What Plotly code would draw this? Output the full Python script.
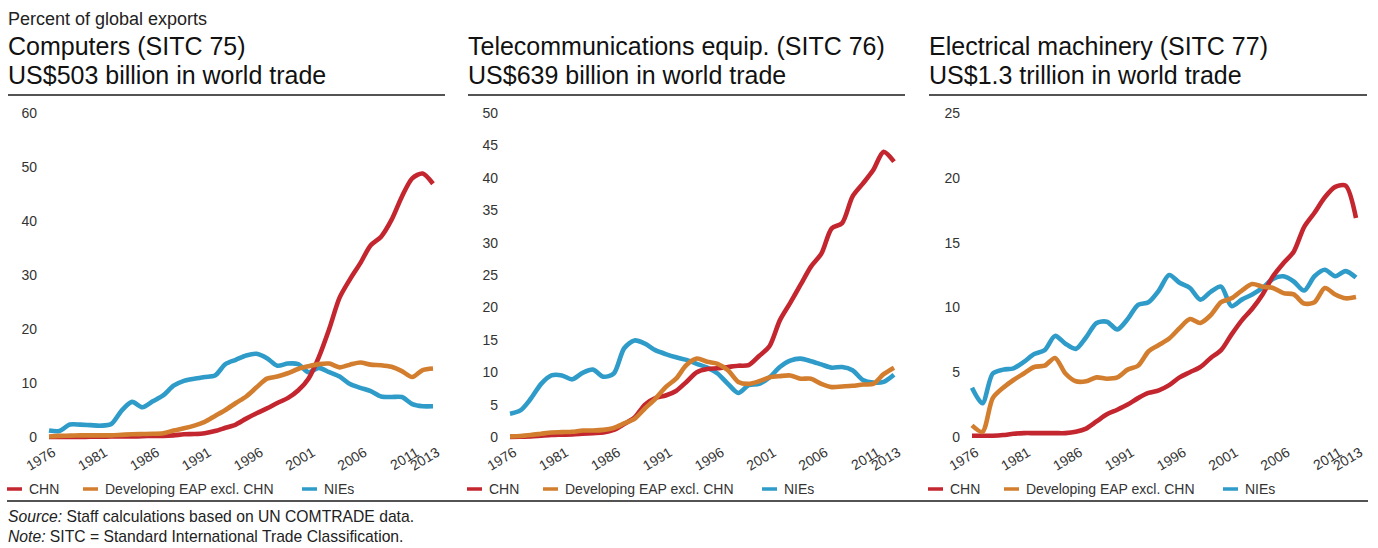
import plotly.graph_objects as go

W, H = 1378, 548

YEARS = list(range(1976, 2014))
TICK_YEARS = [1976, 1981, 1986, 1991, 1996, 2001, 2006, 2011, 2013]

SERIES_NAMES = ["CHN", "Developing EAP excl. CHN", "NIEs"]
COLORS = {"CHN": "#C3262E", "Developing EAP excl. CHN": "#D27E2E", "NIEs": "#2E9BC9"}

PANEL_TITLES = ["Computers (SITC 75)", "Telecommunications equip. (SITC 76)", "Electrical machinery (SITC 77)"]
PANEL_SUBTITLES = ["US$503 billion in world trade", "US$639 billion in world trade", "US$1.3 trillion in world trade"]
Y_MAX = [60, 50, 25]
Y_DTICK = [10, 5, 5]

# Panel 1: Computers
comp_chn = [0.0, 0.0, 0.0, 0.0, 0.05, 0.05, 0.1, 0.1, 0.1, 0.15,
            0.2, 0.2, 0.3, 0.5, 0.55, 0.7, 1.1, 1.7, 2.3, 3.4,
            4.4, 5.3, 6.3, 7.2, 8.6, 10.8, 14.8, 20.0, 25.8, 29.2,
            32.2, 35.5, 37.1, 40.2, 44.5, 47.9, 48.8, 46.9]
comp_eap = [0.1, 0.2, 0.25, 0.3, 0.3, 0.3, 0.3, 0.4, 0.5, 0.55,
            0.6, 0.7, 1.2, 1.6, 2.1, 2.8, 3.9, 5.0, 6.3, 7.5,
            9.2, 10.8, 11.2, 11.8, 12.6, 13.1, 13.5, 13.6, 12.9, 13.4,
            13.8, 13.4, 13.3, 13.0, 12.2, 11.1, 12.4, 12.7]
comp_nie = [1.2, 1.1, 2.3, 2.3, 2.2, 2.1, 2.4, 4.9, 6.5, 5.5,
            6.6, 7.7, 9.5, 10.4, 10.8, 11.1, 11.4, 13.5, 14.3, 15.1,
            15.4, 14.6, 13.2, 13.6, 13.5, 12.0, 12.8, 12.0, 11.2, 9.8,
            9.1, 8.5, 7.5, 7.4, 7.4, 6.1, 5.7, 5.7]

# Panel 2: Telecommunications equipment
tele_chn = [0.0, 0.05, 0.1, 0.2, 0.3, 0.35, 0.4, 0.5, 0.6, 0.7,
            1.1, 2.0, 3.0, 5.0, 6.0, 6.4, 7.1, 8.5, 10.0, 10.5,
            10.6, 10.8, 11.0, 11.1, 12.5, 14.0, 18.0, 20.7, 23.5, 26.3,
            28.3, 32.2, 33.0, 37.1, 39.1, 41.2, 44.0, 42.5]
tele_eap = [0.1, 0.15, 0.3, 0.5, 0.7, 0.75, 0.8, 1.0, 1.0, 1.1,
            1.4, 2.1, 2.8, 4.4, 5.9, 7.7, 9.0, 11.1, 12.1, 11.6,
            11.3, 10.3, 8.5, 8.2, 8.6, 9.2, 9.4, 9.5, 9.0, 9.0,
            8.2, 7.7, 7.8, 7.9, 8.1, 8.2, 9.7, 10.7]
tele_nie = [3.6, 4.1, 5.9, 8.2, 9.5, 9.5, 8.9, 9.9, 10.4, 9.3,
            9.8, 13.7, 14.9, 14.4, 13.4, 12.8, 12.3, 11.9, 11.3, 10.7,
            9.8, 8.2, 6.8, 8.0, 8.2, 9.2, 10.8, 11.8, 12.1, 11.7,
            11.2, 10.7, 10.8, 10.3, 8.8, 8.4, 8.5, 9.6]

# Panel 3: Electrical machinery
elec_chn = [0.1, 0.1, 0.1, 0.15, 0.25, 0.3, 0.3, 0.3, 0.3, 0.3,
            0.4, 0.65, 1.2, 1.75, 2.1, 2.5, 3.0, 3.4, 3.6, 4.0,
            4.6, 5.0, 5.4, 6.1, 6.7, 7.9, 9.0, 9.9, 11.0, 12.4,
            13.4, 14.3, 16.2, 17.3, 18.5, 19.3, 19.4, 16.9]
elec_eap = [0.9, 0.4, 3.0, 3.8, 4.4, 4.9, 5.4, 5.5, 6.1, 4.9,
            4.3, 4.3, 4.6, 4.5, 4.6, 5.2, 5.5, 6.6, 7.1, 7.6,
            8.4, 9.1, 8.8, 9.4, 10.4, 10.7, 11.3, 11.8, 11.6, 11.5,
            11.1, 11.0, 10.3, 10.4, 11.5, 11.0, 10.7, 10.8]
elec_nie = [3.8, 2.6, 4.9, 5.2, 5.3, 5.8, 6.4, 6.7, 7.8, 7.2,
            6.8, 7.7, 8.8, 8.9, 8.3, 9.1, 10.2, 10.4, 11.3, 12.5,
            11.9, 11.5, 10.6, 11.2, 11.6, 10.1, 10.6, 11.0, 11.5, 12.2,
            12.4, 12.0, 11.3, 12.4, 12.9, 12.4, 12.8, 12.3]

PANELS = [
    {"CHN": comp_chn, "Developing EAP excl. CHN": comp_eap, "NIEs": comp_nie},
    {"CHN": tele_chn, "Developing EAP excl. CHN": tele_eap, "NIEs": tele_nie},
    {"CHN": elec_chn, "Developing EAP excl. CHN": elec_eap, "NIEs": elec_nie},
]

# ---------------- layout geometry (pixels) ----------------
X_FIRST_PX = [49, 510, 972]     # pixel of first year
X_LAST_PX = [433, 894, 1356]    # pixel of last year
Y_ZERO_PX = 437
Y_TOP_PX = 113
DOM_TOP, DOM_BOT = 104, 441
PANEL_LEFT = [8, 468, 929]
PANEL_RIGHT = [445, 905, 1367]

SANS = "Liberation Sans, Arial, Helvetica, sans-serif"
INK = "#111111"
TICK_INK = "#333333"

def fx(px):
    return px / W

def fy(px):
    return 1 - px / H

fig = go.Figure()
draw_order = ["NIEs", "CHN", "Developing EAP excl. CHN"]

shapes = []
annotations = []

for i, panel in enumerate(PANELS):
    n = i + 1
    xa = "x" if n == 1 else f"x{n}"
    ya = "y" if n == 1 else f"y{n}"
    for name in draw_order:
        fig.add_trace(go.Scatter(
            x=YEARS, y=panel[name], mode="lines", name=name,
            line=dict(color=COLORS[name], width=4.6, shape="spline", smoothing=0.8),
            xaxis=xa, yaxis=ya, showlegend=False, hoverinfo="x+y+name",
        ))

    # axis ranges from pixel geometry
    dl = X_FIRST_PX[i] - 7
    dr = X_LAST_PX[i] + 9
    ppy = (X_LAST_PX[i] - X_FIRST_PX[i]) / (YEARS[-1] - YEARS[0])
    xr = [YEARS[0] - (X_FIRST_PX[i] - dl) / ppy, YEARS[-1] + (dr - X_LAST_PX[i]) / ppy]
    ppv = (Y_ZERO_PX - Y_TOP_PX) / Y_MAX[i]
    yr = [-(DOM_BOT - Y_ZERO_PX) / ppv, Y_MAX[i] + (Y_TOP_PX - DOM_TOP) / ppv]

    fig.update_layout(**{
        ("xaxis" if n == 1 else f"xaxis{n}"): dict(
            domain=[fx(dl), fx(dr)], range=xr, anchor=ya, automargin=False,
            tickvals=TICK_YEARS, ticktext=[str(t) for t in TICK_YEARS],
            tickangle=-31, showgrid=False, zeroline=False, showline=False,
            ticks="", ticklabelshift=4,
            tickfont=dict(family=SANS, size=14, color=TICK_INK),
            fixedrange=True,
        ),
        ("yaxis" if n == 1 else f"yaxis{n}"): dict(
            domain=[fy(DOM_BOT), fy(DOM_TOP)], range=yr, anchor=xa, automargin=False,
            tickmode="linear", tick0=0, dtick=Y_DTICK[i],
            showgrid=False, zeroline=False, showline=False,
            ticks="", ticklabelstandoff=4,
            tickfont=dict(family=SANS, size=14, color=TICK_INK),
            fixedrange=True,
        ),
    })

    L, R = PANEL_LEFT[i], PANEL_RIGHT[i]
    # titles
    annotations.append(dict(text=PANEL_TITLES[i], x=fx(L - 1), y=fy(46.3), xref="paper", yref="paper",
                            xanchor="left", yanchor="middle", showarrow=False, borderpad=0,
                            font=dict(family=SANS, size=25, color=INK)))
    annotations.append(dict(text=PANEL_SUBTITLES[i], x=fx(L - 1), y=fy(75), xref="paper", yref="paper",
                            xanchor="left", yanchor="middle", showarrow=False, borderpad=0,
                            font=dict(family=SANS, size=25, color=INK)))
    # rule under title
    shapes.append(dict(type="line", xref="paper", yref="paper", x0=fx(L), x1=fx(R), y0=fy(95), y1=fy(95),
                       line=dict(color="#1a1a1a", width=1.6)))

    # manual legend
    leg_items = [("CHN", 0), ("Developing EAP excl. CHN", 76), ("NIEs", 295)]
    for name, off in leg_items:
        x0 = L - 1 + off
        shapes.append(dict(type="line", xref="paper", yref="paper", x0=fx(x0), x1=fx(x0 + 15),
                           y0=fy(489), y1=fy(489), line=dict(color=COLORS[name], width=3.5)))
        annotations.append(dict(text=name, x=fx(x0 + 21), y=fy(489), xref="paper", yref="paper",
                                xanchor="left", yanchor="middle", showarrow=False, borderpad=0,
                                font=dict(family=SANS, size=14, color=TICK_INK)))

# header and footer
annotations.append(dict(text="Percent of global exports", x=fx(7), y=fy(19), xref="paper", yref="paper",
                        xanchor="left", yanchor="middle", showarrow=False, borderpad=0,
                        font=dict(family=SANS, size=18, color="#222222")))
annotations.append(dict(text="<i>Source:</i> Staff calculations based on UN COMTRADE data.",
                        x=fx(7), y=fy(516.5), xref="paper", yref="paper",
                        xanchor="left", yanchor="middle", showarrow=False, borderpad=0,
                        font=dict(family=SANS, size=15.7, color="#222222")))
annotations.append(dict(text="<i>Note:</i> SITC = Standard International Trade Classification.",
                        x=fx(7), y=fy(536.5), xref="paper", yref="paper",
                        xanchor="left", yanchor="middle", showarrow=False, borderpad=0,
                        font=dict(family=SANS, size=15.7, color="#222222")))
shapes.append(dict(type="line", xref="paper", yref="paper", x0=fx(7), x1=fx(1368), y0=fy(501), y1=fy(501),
                   line=dict(color="#1a1a1a", width=1.6)))

fig.update_layout(
    template="none",
    width=W, height=H, autosize=False,
    margin=dict(l=0, r=0, t=0, b=0, pad=0),
    paper_bgcolor="white", plot_bgcolor="white",
    showlegend=False,
    shapes=shapes, annotations=annotations,
    font=dict(family=SANS, color=INK),
)

fig.write_html(
    "out.html",
    config={"displayModeBar": False},
    post_script="document.body.style.margin='0px';document.body.style.overflow='hidden';",
)
